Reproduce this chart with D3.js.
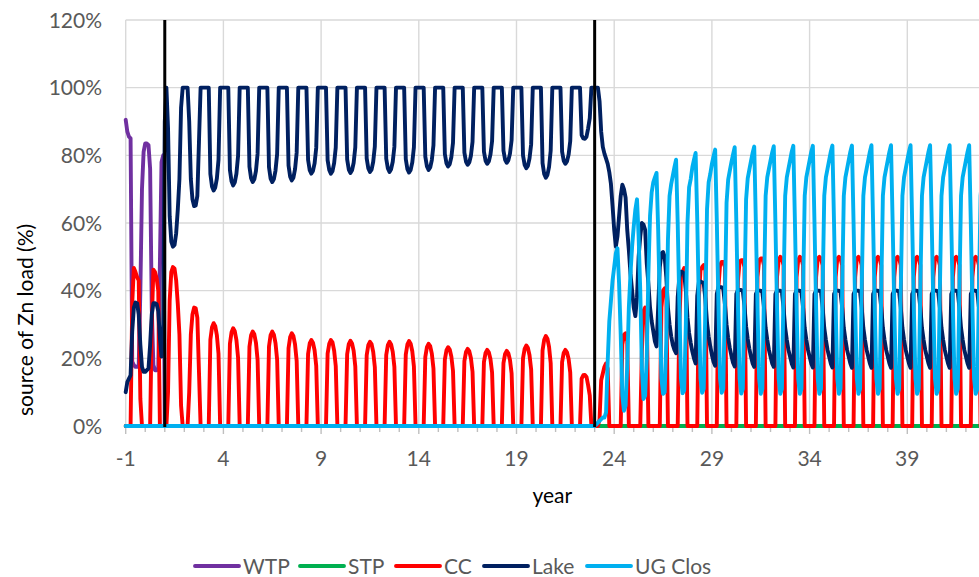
<!DOCTYPE html>
<html>
<head>
<meta charset="utf-8">
<script src="https://cdn.jsdelivr.net/npm/d3@7/dist/d3.min.js"></script>
<style>
  html, body { margin: 0; padding: 0; background: #ffffff; }
  svg { display: block; font-family: "Lato", "Carlito", "Calibri", sans-serif; }
</style>
</head>
<body>
<svg id="chart" width="979" height="577"></svg>
<script>
// Monthly time base: first value at year -1, twelve values per year.
const startYear = -1;
const stepsPerYear = 12;

const seriesNames  = ["WTP", "STP", "CC", "Lake", "UG Clos"];
const seriesColors = ["#7030A0", "#00B050", "#FF0000", "#002060", "#00B0F0"];

const xTickValues = [-1, 4, 9, 14, 19, 24, 29, 34, 39];
const yTickValues = [0, 20, 40, 60, 80, 100, 120];
const phaseBreaks = [1, 23];   // years where the source regime changes

// Share of Zn load by source (%), one row per year (Jan..Dec)
const wtp = [
  90.5, 87, 85.5, 85, 19, 18, 17.5, 17.5, 18, 40, 70, 81,      // -1
  83.5, 83.5, 83, 76, 35, 18, 16.5, 16.5, 17, 48, 78, 80,      // 0
  0,0,0,0,0,0,0,0,0,0,0,0,  0,0,0,0,0,0,0,0,0,0,0,0,           // 1-2
  0,0,0,0,0,0,0,0,0,0,0,0,  0,0,0,0,0,0,0,0,0,0,0,0,           // 3-4
  0,0,0,0,0,0,0,0,0,0,0,0,  0,0,0,0,0,0,0,0,0,0,0,0,           // 5-6
  0,0,0,0,0,0,0,0,0,0,0,0,  0,0,0,0,0,0,0,0,0,0,0,0,           // 7-8
  0,0,0,0,0,0,0,0,0,0,0,0,  0,0,0,0,0,0,0,0,0,0,0,0,           // 9-10
  0,0,0,0,0,0,0,0,0,0,0,0,  0,0,0,0,0,0,0,0,0,0,0,0,           // 11-12
  0,0,0,0,0,0,0,0,0,0,0,0,  0,0,0,0,0,0,0,0,0,0,0,0,           // 13-14
  0,0,0,0,0,0,0,0,0,0,0,0,  0,0,0,0,0,0,0,0,0,0,0,0,           // 15-16
  0,0,0,0,0,0,0,0,0,0,0,0,  0,0,0,0,0,0,0,0,0,0,0,0,           // 17-18
  0,0,0,0,0,0,0,0,0,0,0,0,  0,0,0,0,0,0,0,0,0,0,0,0,           // 19-20
  0,0,0,0,0,0,0,0,0,0,0,0,  0,0,0,0,0,0,0,0,0,0,0,0,           // 21-22
  0,0,0,0,0,0,0,0,0,0,0,0,  0,0,0,0,0,0,0,0,0,0,0,0,           // 23-24
  0,0,0,0,0,0,0,0,0,0,0,0,  0,0,0,0,0,0,0,0,0,0,0,0,           // 25-26
  0,0,0,0,0,0,0,0,0,0,0,0,  0,0,0,0,0,0,0,0,0,0,0,0,           // 27-28
  0,0,0,0,0,0,0,0,0,0,0,0,  0,0,0,0,0,0,0,0,0,0,0,0,           // 29-30
  0,0,0,0,0,0,0,0,0,0,0,0,  0,0,0,0,0,0,0,0,0,0,0,0,           // 31-32
  0,0,0,0,0,0,0,0,0,0,0,0,  0,0,0,0,0,0,0,0,0,0,0,0,           // 33-34
  0,0,0,0,0,0,0,0,0,0,0,0,  0,0,0,0,0,0,0,0,0,0,0,0,           // 35-36
  0,0,0,0,0,0,0,0,0,0,0,0,  0,0,0,0,0,0,0,0,0,0,0,0,           // 37-38
  0,0,0,0,0,0,0,0,0,0,0,0,  0,0,0,0,0,0,0,0,0,0,0,0,           // 39-40
  0,0,0,0,0,0,0,0,0,0,0,0,  0,0,0,0,0,0,0,0,0,0,0,0            // 41-42
];

const stp = [
  0,0,0,0,0,0,0,0,0,0,0,0,  0,0,0,0,0,0,0,0,0,0,0,0,           // -1-0
  0,0,0,0,0,0,0,0,0,0,0,0,  0,0,0,0,0,0,0,0,0,0,0,0,           // 1-2
  0,0,0,0,0,0,0,0,0,0,0,0,  0,0,0,0,0,0,0,0,0,0,0,0,           // 3-4
  0,0,0,0,0,0,0,0,0,0,0,0,  0,0,0,0,0,0,0,0,0,0,0,0,           // 5-6
  0,0,0,0,0,0,0,0,0,0,0,0,  0,0,0,0,0,0,0,0,0,0,0,0,           // 7-8
  0,0,0,0,0,0,0,0,0,0,0,0,  0,0,0,0,0,0,0,0,0,0,0,0,           // 9-10
  0,0,0,0,0,0,0,0,0,0,0,0,  0,0,0,0,0,0,0,0,0,0,0,0,           // 11-12
  0,0,0,0,0,0,0,0,0,0,0,0,  0,0,0,0,0,0,0,0,0,0,0,0,           // 13-14
  0,0,0,0,0,0,0,0,0,0,0,0,  0,0,0,0,0,0,0,0,0,0,0,0,           // 15-16
  0,0,0,0,0,0,0,0,0,0,0,0,  0,0,0,0,0,0,0,0,0,0,0,0,           // 17-18
  0,0,0,0,0,0,0,0,0,0,0,0,  0,0,0,0,0,0,0,0,0,0,0,0,           // 19-20
  0,0,0,0,0,0,0,0,0,0,0,0,  0,0,0,0,0,0,0,0,0,0,0,0,           // 21-22
  0,0,0,0,0,0,0,0,0,0,0,0,  0,0,0,0,0,0,0,0,0,0,0,0,           // 23-24
  0,0,0,0,0,0,0,0,0,0,0,0,  0,0,0,0,0,0,0,0,0,0,0,0,           // 25-26
  0,0,0,0,0,0,0,0,0,0,0,0,  0,0,0,0,0,0,0,0,0,0,0,0,           // 27-28
  0,0,0,0,0,0,0,0,0,0,0,0,  0,0,0,0,0,0,0,0,0,0,0,0,           // 29-30
  0,0,0,0,0,0,0,0,0,0,0,0,  0,0,0,0,0,0,0,0,0,0,0,0,           // 31-32
  0,0,0,0,0,0,0,0,0,0,0,0,  0,0,0,0,0,0,0,0,0,0,0,0,           // 33-34
  0,0,0,0,0,0,0,0,0,0,0,0,  0,0,0,0,0,0,0,0,0,0,0,0,           // 35-36
  0,0,0,0,0,0,0,0,0,0,0,0,  0,0,0,0,0,0,0,0,0,0,0,0,           // 37-38
  0,0,0,0,0,0,0,0,0,0,0,0,  0,0,0,0,0,0,0,0,0,0,0,0,           // 39-40
  0,0,0,0,0,0,0,0,0,0,0,0,  0,0,0,0,0,0,0,0,0,0,0,0            // 41-42
];

const cc = [
  0, 0, 0, 0, 36, 46.7, 45.5, 44, 43, 8, 0, 0,                 // -1
  0, 0, 0, 0, 30, 46.2, 45.5, 43.7, 40, 0, 0, 0,               // 0
  0, 0, 10, 37, 45.5, 47, 46.5, 43, 36, 27, 6, 0,              // 1
  0, 0, 0, 10, 27, 33, 35, 34.8, 32, 16, 0, 0,                 // 2
  0, 0, 0, 0, 25.5, 29.2, 30.4, 29.5, 26.8, 21.3, 0, 0,        // 3
  0, 0, 0, 0, 24.3, 27.7, 28.9, 28.0, 25.4, 20.2, 0, 0,        // 4
  0, 0, 0, 0, 23.4, 26.8, 27.9, 27.1, 24.6, 19.5, 0, 0,        // 5
  0, 0, 0, 0, 23.5, 26.9, 27.9, 27.0, 24.5, 19.6, 0, 0,        // 6
  0, 0, 0, 0, 23.0, 26.3, 27.4, 26.6, 24.1, 19.2, 0, 0,        // 7
  0, 0, 0, 0, 21.3, 24.4, 25.4, 24.6, 22.4, 17.8, 0, 0,        // 8
  0, 0, 0, 0, 21.4, 24.3, 25.4, 24.7, 22.3, 17.7, 0, 0,        // 9
  0, 0, 0, 0, 21.2, 24.2, 25.2, 24.4, 22.2, 17.6, 0, 0,        // 10
  0, 0, 0, 0, 20.9, 23.9, 24.9, 24.2, 21.9, 17.4, 0, 0,        // 11
  0, 0, 0, 0, 21.0, 23.9, 24.9, 24.1, 21.9, 17.5, 0, 0,        // 12
  0, 0, 0, 0, 21.1, 24.1, 25.1, 24.3, 22.1, 17.6, 0, 0,        // 13
  0, 0, 0, 0, 20.4, 23.3, 24.3, 23.6, 21.4, 17.0, 0, 0,        // 14
  0, 0, 0, 0, 19.6, 22.4, 23.3, 22.6, 20.5, 16.3, 0, 0,        // 15
  0, 0, 0, 0, 19.2, 21.9, 22.8, 22.1, 20.1, 16.0, 0, 0,        // 16
  0, 0, 0, 0, 18.9, 21.6, 22.5, 21.8, 19.8, 15.8, 0, 0,        // 17
  0, 0, 0, 0, 18.6, 21.3, 22.2, 21.5, 19.5, 15.5, 0, 0,        // 18
  0, 0, 0, 0, 20.0, 22.8, 23.8, 23.1, 20.9, 16.7, 0, 0,        // 19
  0, 0, 0, 0, 22.3, 25.5, 26.6, 25.8, 23.4, 18.6, 0, 0,        // 20
  0, 0, 0, 0, 18.9, 21.6, 22.5, 21.8, 19.8, 15.8, 0, 0,        // 21
  0, 0, 0, 0, 14, 15, 15.1, 14.5, 12, 9, 0, 0,                 // 22
  0, 0, 0, 2, 13.5, 15.5, 17.5, 18.5, 17, 0, 0, 0,             // 23
  0, 0, 0, 0, 0, 24, 27, 27.4, 25, 0, 0, 0,                    // 24
  0, 0, 0, 0, 0, 22, 34, 35, 33, 0, 0, 0,                      // 25
  0, 0, 0, 0, 0, 35, 40, 40.7, 39, 0, 0, 0,                    // 26
  0, 0, 0, 0, 30, 44, 45.5, 46.7, 45.5, 0, 0, 0,               // 27
  0, 0, 0, 0, 38, 46, 47, 47.6, 46, 0, 0, 0,                   // 28
  0, 0, 0, 0, 41, 47.5, 48.5, 48.5, 47, 0, 0, 0,               // 29
  0, 0, 0, 0, 43, 48.5, 49, 49, 47, 0, 0, 0,                   // 30
  0, 0, 0, 0, 44, 49, 49.5, 49.5, 47.5, 0, 0, 0,               // 31
  0, 0, 0, 0, 44, 49, 50, 49.5, 47.5, 0, 0, 0,                 // 32
  0, 0, 0, 0, 44, 49, 50, 49.5, 47.5, 0, 0, 0,                 // 33
  0, 0, 0, 0, 44, 49.5, 50, 49.5, 47.5, 0, 0, 0,               // 34
  0, 0, 0, 0, 44, 49.5, 50, 49.5, 47.5, 0, 0, 0,               // 35
  0, 0, 0, 0, 44, 49.5, 50, 49.5, 47.5, 0, 0, 0,               // 36
  0, 0, 0, 0, 44, 49.5, 50, 49.5, 47.5, 0, 0, 0,               // 37
  0, 0, 0, 0, 44, 49.5, 50, 49.5, 47.5, 0, 0, 0,               // 38
  0, 0, 0, 0, 44, 49.5, 50, 49.5, 47.5, 0, 0, 0,               // 39
  0, 0, 0, 0, 44, 49.5, 50, 49.5, 47.5, 0, 0, 0,               // 40
  0, 0, 0, 0, 44, 49.5, 50, 49.5, 47.5, 0, 0, 0,               // 41
  0, 0, 0, 0, 44, 49.5, 50, 49.5, 47.5, 0, 0, 0                // 42
];

const lake = [
  10, 13, 14, 15, 28, 35, 36.5, 36.3, 33, 24, 17.5, 16,        // -1
  16, 16.5, 17, 24, 33, 36.3, 36.3, 36, 34, 26, 20.5, 28,      // 0
  90, 100, 88, 62, 54.5, 53, 53.5, 57, 64, 73, 94, 100,        // 1
  100, 100, 100, 90, 73, 67, 65, 65.2, 68, 84, 100, 100,       // 2
  100, 100, 100, 100, 74.5, 70.8, 69.6, 70.5, 73.2, 78.7, 100, 100,  // 3
  100, 100, 100, 100, 75.7, 72.3, 71.1, 72.0, 74.6, 79.8, 100, 100,  // 4
  100, 100, 100, 100, 76.6, 73.2, 72.1, 72.9, 75.4, 80.5, 100, 100,  // 5
  100, 100, 100, 100, 76.5, 73.1, 72.1, 73.0, 75.5, 80.4, 100, 100,  // 6
  100, 100, 100, 100, 77.0, 73.7, 72.6, 73.4, 75.9, 80.8, 100, 100,  // 7
  100, 100, 100, 100, 78.7, 75.6, 74.6, 75.4, 77.6, 82.2, 100, 100,  // 8
  100, 100, 100, 100, 78.6, 75.7, 74.6, 75.3, 77.7, 82.3, 100, 100,  // 9
  100, 100, 100, 100, 78.8, 75.8, 74.8, 75.6, 77.8, 82.4, 100, 100,  // 10
  100, 100, 100, 100, 79.1, 76.1, 75.1, 75.8, 78.1, 82.6, 100, 100,  // 11
  100, 100, 100, 100, 79.0, 76.1, 75.1, 75.9, 78.1, 82.5, 100, 100,  // 12
  100, 100, 100, 100, 78.9, 75.9, 74.9, 75.7, 77.9, 82.4, 100, 100,  // 13
  100, 100, 100, 100, 79.6, 76.7, 75.7, 76.4, 78.6, 83.0, 100, 100,  // 14
  100, 100, 100, 100, 80.4, 77.6, 76.7, 77.4, 79.5, 83.7, 100, 100,  // 15
  100, 100, 100, 100, 80.8, 78.1, 77.2, 77.9, 79.9, 84.0, 100, 100,  // 16
  100, 100, 100, 100, 81.1, 78.4, 77.5, 78.2, 80.2, 84.2, 100, 100,  // 17
  100, 100, 100, 100, 81.4, 78.7, 77.8, 78.5, 80.5, 84.5, 100, 100,  // 18
  100, 100, 100, 100, 80.0, 77.2, 76.2, 76.9, 79.1, 83.3, 100, 100,  // 19
  100, 100, 100, 100, 77.7, 74.5, 73.4, 74.2, 76.6, 81.4, 100, 100,  // 20
  100, 100, 100, 100, 81.1, 78.4, 77.5, 78.2, 80.2, 84.2, 100, 100,  // 21
  100, 100, 100, 100, 86, 85, 84.9, 85.5, 88, 91, 100, 100,          // 22
  100, 100, 100, 96, 87, 82.5, 80.5, 79, 77.5, 75, 71.5, 65,         // 23
  58, 53, 56, 62, 68, 71.3, 70, 67.5, 58, 52, 45, 40,                // 24
  35, 32.5, 38, 50, 56, 60, 59.5, 58, 48, 42, 35, 31,                // 25
  28, 25, 23.5, 35, 47, 51, 51.4, 50, 44, 35, 30, 26.5,              // 26
  24, 22.5, 21.5, 38, 44, 45.6, 45.5, 45, 40, 32, 27.5, 24.5,        // 27
  22, 20, 18.5, 38.5, 42.5, 42.7, 42.5, 42, 37.5, 30.5, 26.5, 23.5,  // 28
  21, 19, 17.8, 39, 41, 41, 41, 40.5, 36, 30, 26, 23,                // 29
  20.7, 18.7, 17.6, 39, 40.2, 40.2, 40.2, 39.8, 35.5, 29.5, 25.7, 22.8, // 30
  20.5, 18.5, 17.5, 39, 40, 40, 40, 39.5, 35, 29, 25.5, 22.5,        // 31
  20.5, 18.5, 17.5, 39, 40, 40, 40, 39.5, 35, 29, 25.5, 22.5,        // 32
  20.5, 18.5, 17.3, 39, 40, 40, 40, 39.5, 35, 29, 25.5, 22.5,        // 33
  20.5, 18.5, 17.3, 39, 40, 40, 40, 39.5, 35, 29, 25.5, 22.5,        // 34
  20.5, 18.5, 17.3, 39, 40, 40, 40, 39.5, 35, 29, 25.5, 22.5,        // 35
  20.5, 18.5, 17.2, 39, 40, 40, 40, 39.5, 35, 29, 25.5, 22.5,        // 36
  20.5, 18.5, 17.2, 39, 40, 40, 40, 39.5, 35, 29, 25.5, 22.5,        // 37
  20.5, 18.5, 17.2, 39, 40, 40, 40, 39.5, 35, 29, 25.5, 22.5,        // 38
  20.5, 18.5, 17.2, 39, 40, 40, 40, 39.5, 35, 29, 25.5, 22.5,        // 39
  20.5, 18.5, 17.2, 39, 40, 40, 40, 39.5, 35, 29, 25.5, 22.5,        // 40
  20.5, 18.5, 17.2, 39, 40, 40, 40, 39.5, 35, 29, 25.5, 22.5,        // 41
  20.5, 18.5, 17.2, 39, 40, 40, 40, 39.5, 35, 29, 25.5, 22.5         // 42
];

const ugClos = [
  0,0,0,0,0,0,0,0,0,0,0,0,  0,0,0,0,0,0,0,0,0,0,0,0,           // -1-0
  0,0,0,0,0,0,0,0,0,0,0,0,  0,0,0,0,0,0,0,0,0,0,0,0,           // 1-2
  0,0,0,0,0,0,0,0,0,0,0,0,  0,0,0,0,0,0,0,0,0,0,0,0,           // 3-4
  0,0,0,0,0,0,0,0,0,0,0,0,  0,0,0,0,0,0,0,0,0,0,0,0,           // 5-6
  0,0,0,0,0,0,0,0,0,0,0,0,  0,0,0,0,0,0,0,0,0,0,0,0,           // 7-8
  0,0,0,0,0,0,0,0,0,0,0,0,  0,0,0,0,0,0,0,0,0,0,0,0,           // 9-10
  0,0,0,0,0,0,0,0,0,0,0,0,  0,0,0,0,0,0,0,0,0,0,0,0,           // 11-12
  0,0,0,0,0,0,0,0,0,0,0,0,  0,0,0,0,0,0,0,0,0,0,0,0,           // 13-14
  0,0,0,0,0,0,0,0,0,0,0,0,  0,0,0,0,0,0,0,0,0,0,0,0,           // 15-16
  0,0,0,0,0,0,0,0,0,0,0,0,  0,0,0,0,0,0,0,0,0,0,0,0,           // 17-18
  0,0,0,0,0,0,0,0,0,0,0,0,  0,0,0,0,0,0,0,0,0,0,0,0,           // 19-20
  0,0,0,0,0,0,0,0,0,0,0,0,  0,0,0,0,0,0,0,0,0,0,0,0,           // 21-22
  0, 0.5, 1, 1.5, 2, 2.5, 2.5, 4, 19, 31, 37, 43,              // 23
  47, 51, 52.5, 42, 27, 9, 4.5, 6, 18, 35, 45, 53,             // 24
  59, 64, 67, 56, 40, 17, 8, 9, 20, 45, 62, 69,                // 25
  72, 73.5, 74.8, 58, 36, 14, 9.5, 10, 25, 55, 68, 71.5,       // 26
  74, 76.5, 78.7, 60, 36, 14, 9.7, 10.5, 30, 60, 70.5, 73,     // 27
  76.5, 78.7, 80.7, 61, 36, 14, 9.8, 11, 35, 64, 72, 74.5,     // 28
  77.5, 79.7, 81.7, 61, 36, 14, 9.8, 11, 38, 66, 72.8, 75.5,   // 29
  78, 80.3, 82.4, 60.5, 35.5, 14, 9.6, 11, 39, 67, 73.2, 75.8, // 30
  78.3, 80.7, 82.6, 60, 35, 14, 9.5, 11, 40, 68, 73.5, 76,     // 31
  78.4, 80.8, 82.7, 60, 35, 14, 9.5, 11, 40, 68, 73.5, 76,     // 32
  78.5, 81, 82.8, 60, 35, 14, 9.5, 11, 40, 68, 73.5, 76,       // 33
  78.5, 81, 82.8, 60, 35, 14, 9.5, 11, 40, 68, 73.5, 76,       // 34
  78.5, 81, 82.9, 60, 35, 14, 9.5, 11, 40, 68, 73.5, 76,       // 35
  78.5, 81, 82.9, 60, 35, 14, 9.5, 11, 40, 68, 73.5, 76,       // 36
  78.5, 81, 83, 60, 35, 14, 9.5, 11, 40, 68, 73.5, 76,         // 37
  78.5, 81, 83, 60, 35, 14, 9.5, 11, 40, 68, 73.5, 76,         // 38
  78.5, 81, 83, 60, 35, 14, 9.5, 11, 40, 68, 73.5, 76,         // 39
  78.5, 81, 83, 60, 35, 14, 9.5, 11, 40, 68, 73.5, 76,         // 40
  78.5, 81, 83, 60, 35, 14, 9.5, 11, 40, 68, 73.5, 76,         // 41
  78.5, 81, 83, 60, 35, 14, 9.5, 11, 40, 68, 73.5, 76          // 42
];

const seriesValues = [wtp, stp, cc, lake, ugClos];

// ---- layout ----
const svg = d3.select("#chart");
const plot = { left: 125.7, top: 20, bottom: 426 };

const x = d3.scaleLinear().domain([-1, 44]).range([plot.left, plot.left + 45 * 19.54]);
const y = d3.scaleLinear().domain([0, 120]).range([plot.bottom, plot.top]);

const gridColor = "#d9d9d9";
const labelColor = "#595959";

// horizontal gridlines
svg.append("g").selectAll("line").data(yTickValues).join("line")
  .attr("x1", x(-1)).attr("x2", 979)
  .attr("y1", d => y(d)).attr("y2", d => y(d))
  .attr("stroke", gridColor).attr("stroke-width", 1.4);

// vertical gridlines at labelled years
svg.append("g").selectAll("line").data(xTickValues).join("line")
  .attr("x1", d => x(d)).attr("x2", d => x(d))
  .attr("y1", y(120)).attr("y2", y(0))
  .attr("stroke", gridColor).attr("stroke-width", 1.4);

// tick marks below the axis: every year, longer at labelled years
const yearTicks = d3.range(-1, 44);
svg.append("g").selectAll("line").data(yearTicks).join("line")
  .attr("x1", d => x(d)).attr("x2", d => x(d))
  .attr("y1", y(0)).attr("y2", d => y(0) + (xTickValues.includes(d) ? 8 : 6))
  .attr("stroke", "#bfbfbf").attr("stroke-width", 1.4);

// y tick labels
svg.append("g").selectAll("text").data(yTickValues).join("text")
  .attr("x", 102).attr("y", d => y(d) + 7.5)
  .attr("text-anchor", "end")
  .attr("font-size", 21).attr("fill", labelColor)
  .text(d => d + "%");

// x tick labels
svg.append("g").selectAll("text").data(xTickValues).join("text")
  .attr("x", d => x(d)).attr("y", 465.5)
  .attr("text-anchor", "middle")
  .attr("font-size", 21).attr("fill", labelColor)
  .text(d => d);

// axis titles
svg.append("text")
  .attr("x", (x(-1) + 979) / 2).attr("y", 503)
  .attr("text-anchor", "middle").attr("font-size", 21).attr("fill", "#000")
  .text("year");

svg.append("text")
  .attr("transform", "translate(33, 320) rotate(-90)")
  .attr("text-anchor", "middle").attr("font-size", 21).attr("fill", "#000")
  .text("source of Zn load (%)");

// ---- series ----
const line = d3.line()
  .x((d, i) => x(startYear + i / stepsPerYear))
  .y(d => y(d));

svg.append("defs").append("clipPath").attr("id", "plot-clip")
  .append("rect").attr("x", x(-1) - 3).attr("y", 0).attr("width", 979).attr("height", plot.bottom + 10);

const seriesLayer = svg.append("g").attr("clip-path", "url(#plot-clip)");
seriesLayer.selectAll("path").data(seriesValues).join("path")
  .attr("d", d => line(d))
  .attr("fill", "none")
  .attr("stroke", (d, i) => seriesColors[i])
  .attr("stroke-width", 3.9)
  .attr("stroke-linejoin", "round")
  .attr("stroke-linecap", "round");

// regime change markers
svg.append("g").selectAll("line").data(phaseBreaks).join("line")
  .attr("x1", d => x(d)).attr("x2", d => x(d))
  .attr("y1", y(0) + 1).attr("y2", y(120))
  .attr("stroke", "#000").attr("stroke-width", 3);

// ---- legend ----
const legendX = [195, 300, 396, 484, 587];
const legend = svg.append("g").selectAll("g").data(seriesNames).join("g")
  .attr("transform", (d, i) => `translate(${legendX[i]}, 566)`);
legend.append("line")
  .attr("x1", 0).attr("x2", 44).attr("y1", 0).attr("y2", 0)
  .attr("stroke", (d, i) => seriesColors[i]).attr("stroke-width", 3.9)
  .attr("stroke-linecap", "round");
legend.append("text")
  .attr("x", 48).attr("y", 7.5)
  .attr("font-size", 21).attr("fill", labelColor)
  .text(d => d);
</script>
</body>
</html>
